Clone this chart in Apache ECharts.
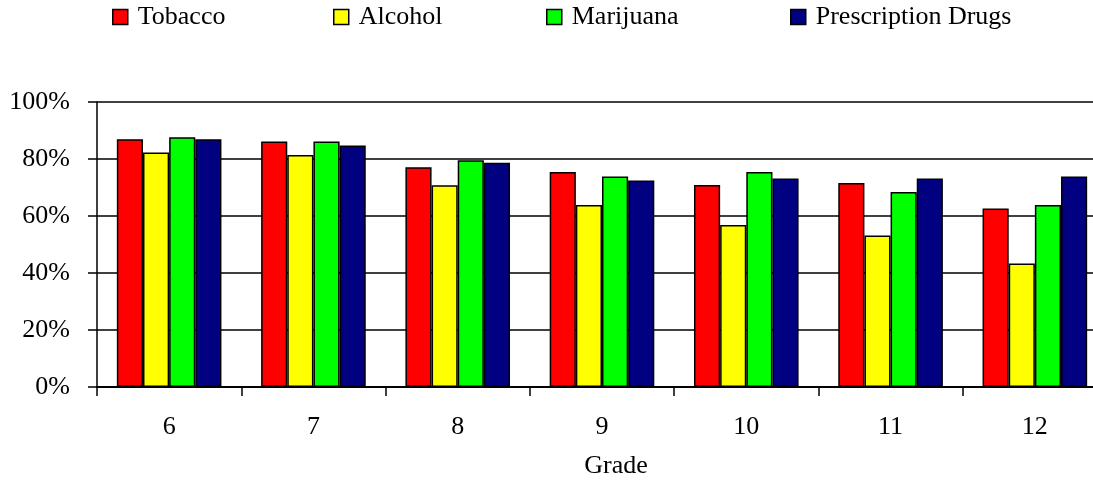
<!DOCTYPE html>
<html>
<head>
<meta charset="utf-8">
<script src="https://cdn.jsdelivr.net/npm/echarts@6/dist/echarts.min.js"></script>
<style>
  html, body { margin: 0; padding: 0; background: #fff; }
  #chart { width: 1093px; height: 482px; }
</style>
</head>
<body>
<div id="chart"></div>
<script>
// grades on the x axis
const grades = ["6", "7", "8", "9", "10", "11", "12"];
// percent per grade
const tobacco = [86.9, 86.1, 77.1, 75.4, 70.9, 71.6, 62.6];
const alcohol = [82.3, 81.4, 70.8, 63.9, 56.8, 53.2, 43.3];
const marijuana = [87.6, 86.1, 79.6, 73.9, 75.4, 68.4, 63.9];
const prescription = [86.9, 84.7, 78.7, 72.5, 73.2, 73.2, 73.9];

const seriesNames = ["Tobacco", "Alcohol", "Marijuana", "Prescription Drugs"];
const seriesColors = ["#ff0000", "#ffff00", "#00ff00", "#000080"];
const seriesData = [tobacco, alcohol, marijuana, prescription];
// left edge of each legend entry
const legendLeft = [112, 333, 546, 790];

const font = "Liberation Serif";
const myChart = echarts.init(document.getElementById("chart"));

let option = {
  backgroundColor: "#fff",
  animation: false,
  textStyle: { fontFamily: font, color: "#000" },
  legend: seriesNames.map((name, i) => ({
    data: [{ name: name, icon: "rect" }],
    left: legendLeft[i],
    top: 4,
    padding: 0,
    itemWidth: 15,
    itemHeight: 15,
    itemGap: 0,
    itemStyle: { borderColor: "#000", borderWidth: 1.5 },
    textStyle: { fontFamily: font, fontSize: 26, color: "#000", padding: [0, 0, 0, 5] },
  })),
  // the last category runs past the right edge of the picture
  grid: {
    left: 97,
    right: -14,
    top: 102,
    bottom: 95,
    outerBoundsMode: "none",
  },
  xAxis: {
    type: "category",
    data: grades,
    name: "Grade",
    nameLocation: "middle",
    nameGap: 66,
    // left padding nudges the title a bit right, like the original
    nameTextStyle: { fontFamily: font, fontSize: 26, color: "#000", padding: [0, 0, 0, 28] },
    axisLine: { lineStyle: { color: "#000", width: 2 } },
    axisTick: { show: true, inside: false, length: 9, lineStyle: { color: "#000", width: 1.5 } },
    axisLabel: { fontFamily: font, fontSize: 26, color: "#000", margin: 27 },
  },
  yAxis: {
    type: "value",
    min: 0,
    max: 100,
    interval: 20,
    axisLine: { show: true, lineStyle: { color: "#000", width: 1.5 } },
    axisTick: { show: true, inside: false, length: 9, lineStyle: { color: "#000", width: 1.5 } },
    axisLabel: { fontFamily: font, fontSize: 26, color: "#000", margin: 27, formatter: "{value}%" },
    splitLine: { show: true, lineStyle: { color: "#000", width: 1.5 } },
  },
  series: seriesNames.map((name, i) => ({
    name: name,
    type: "bar",
    data: seriesData[i],
    barGap: "0%",
    barCategoryGap: "27.5%",
    itemStyle: { color: seriesColors[i], borderColor: "#000", borderWidth: 1.5 },
  })),
};
myChart.setOption(option);
</script>
</body>
</html>
